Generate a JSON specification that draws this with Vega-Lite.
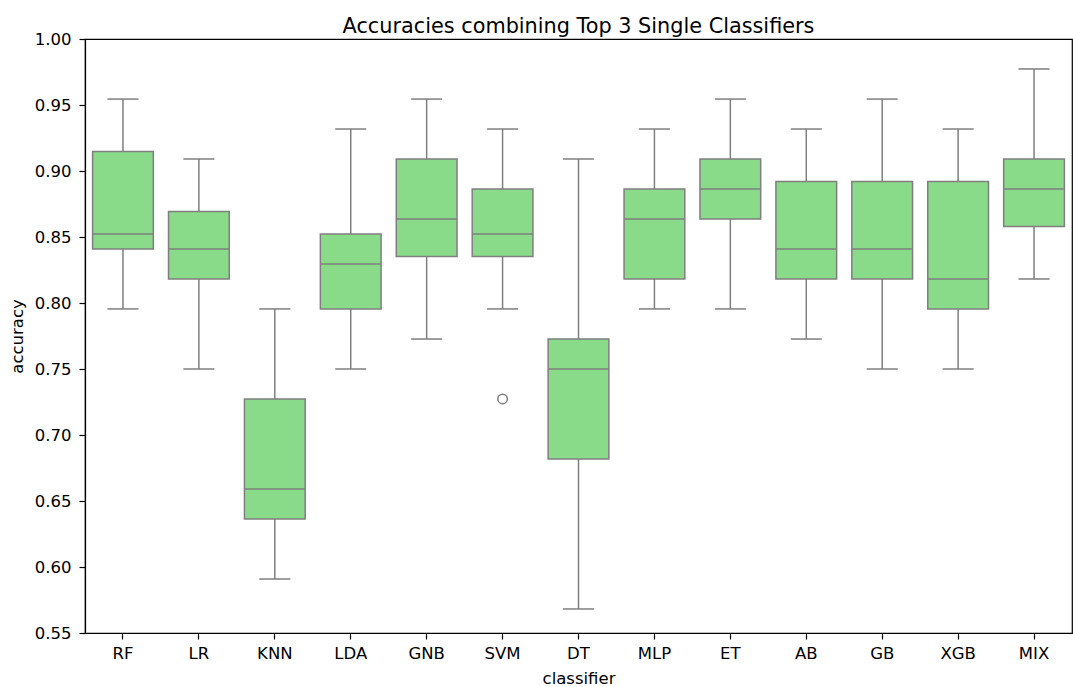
{
  "$schema": "https://vega.github.io/schema/vega-lite/v6.json",
  "width": 987,
  "height": 594,
  "autosize": {"type": "none"},
  "padding": {"left": 85, "top": 39, "right": 1, "bottom": 54},
  "background": "white",
  "title": {"text": "Accuracies combining Top 3 Single Classifiers", "font": "DejaVu Sans", "fontSize": 20.8, "fontWeight": "normal", "color": "#000000", "anchor": "middle", "offset": 0, "dy": 7},
  "config": {
    "view": {"stroke": "#000000", "strokeWidth": 1.2},
    "axis": {"labelFont": "DejaVu Sans", "titleFont": "DejaVu Sans", "labelFontSize": 16.5, "titleFontSize": 16.5, "titleFontWeight": "normal", "labelColor": "#000000", "titleColor": "#000000", "domainColor": "#000000", "tickColor": "#000000", "tickSize": 6, "domainWidth": 1.2, "tickWidth": 1.2, "grid": false}
  },
  "datasets": {
    "stats": [
      {"classifier": "RF", "lo": 0.7955, "q1": 0.8409, "med": 0.8523, "q3": 0.9148, "hi": 0.9545},
      {"classifier": "LR", "lo": 0.75, "q1": 0.8182, "med": 0.8409, "q3": 0.8693, "hi": 0.9091},
      {"classifier": "KNN", "lo": 0.5909, "q1": 0.6364, "med": 0.6591, "q3": 0.7273, "hi": 0.7955},
      {"classifier": "LDA", "lo": 0.75, "q1": 0.7955, "med": 0.8295, "q3": 0.8523, "hi": 0.9318},
      {"classifier": "GNB", "lo": 0.7727, "q1": 0.8352, "med": 0.8636, "q3": 0.9091, "hi": 0.9545},
      {"classifier": "SVM", "lo": 0.7955, "q1": 0.8352, "med": 0.8523, "q3": 0.8864, "hi": 0.9318},
      {"classifier": "DT", "lo": 0.5682, "q1": 0.6818, "med": 0.75, "q3": 0.7727, "hi": 0.9091},
      {"classifier": "MLP", "lo": 0.7955, "q1": 0.8182, "med": 0.8636, "q3": 0.8864, "hi": 0.9318},
      {"classifier": "ET", "lo": 0.7955, "q1": 0.8636, "med": 0.8864, "q3": 0.9091, "hi": 0.9545},
      {"classifier": "AB", "lo": 0.7727, "q1": 0.8182, "med": 0.8409, "q3": 0.892, "hi": 0.9318},
      {"classifier": "GB", "lo": 0.75, "q1": 0.8182, "med": 0.8409, "q3": 0.892, "hi": 0.9545},
      {"classifier": "XGB", "lo": 0.75, "q1": 0.7955, "med": 0.8182, "q3": 0.892, "hi": 0.9318},
      {"classifier": "MIX", "lo": 0.8182, "q1": 0.8580, "med": 0.8864, "q3": 0.9091, "hi": 0.9773}
    ],
    "outliers": [
      {"classifier": "SVM", "accuracy": 0.7273}
    ]
  },
  "encoding": {
    "x": {"field": "classifier", "type": "nominal", "sort": ["RF", "LR", "KNN", "LDA", "GNB", "SVM", "DT", "MLP", "ET", "AB", "GB", "XGB", "MIX"],
      "scale": {"paddingInner": 0, "paddingOuter": 0},
      "axis": {"title": "classifier", "labelAngle": 0, "labelPadding": 6, "titlePadding": 9}}
  },
  "layer": [
    {
      "data": {"name": "stats"},
      "mark": {"type": "rule", "color": "#7f7f7f", "strokeWidth": 1.5},
      "encoding": {
        "y": {"field": "lo", "type": "quantitative", "scale": {"domain": [0.55, 1.0], "nice": false, "zero": false},
          "axis": {"title": "accuracy", "values": [0.55, 0.6, 0.65, 0.7, 0.75, 0.8, 0.85, 0.9, 0.95, 1.0], "format": ".2f", "labelPadding": 8, "titlePadding": 9}},
        "y2": {"field": "hi"}
      }
    },
    {
      "data": {"name": "stats"},
      "mark": {"type": "bar", "width": {"band": 0.8}, "fill": "#89da89", "stroke": "#7f7f7f", "strokeWidth": 1.5, "opacity": 1},
      "encoding": {
        "y": {"field": "q1", "type": "quantitative"},
        "y2": {"field": "q3"}
      }
    },
    {
      "data": {"name": "stats"},
      "mark": {"type": "tick", "size": 61, "thickness": 1.5, "color": "#7f7f7f", "opacity": 1},
      "encoding": {
        "y": {"field": "med", "type": "quantitative"}
      }
    },
    {
      "data": {"name": "stats"},
      "mark": {"type": "tick", "size": 31, "thickness": 1.5, "color": "#7f7f7f", "opacity": 1},
      "encoding": {
        "y": {"field": "lo", "type": "quantitative"}
      }
    },
    {
      "data": {"name": "stats"},
      "mark": {"type": "tick", "size": 31, "thickness": 1.5, "color": "#7f7f7f", "opacity": 1},
      "encoding": {
        "y": {"field": "hi", "type": "quantitative"}
      }
    },
    {
      "data": {"name": "outliers"},
      "mark": {"type": "point", "shape": "circle", "filled": false, "stroke": "#7f7f7f", "strokeWidth": 1.5, "size": 90, "opacity": 1},
      "encoding": {
        "y": {"field": "accuracy", "type": "quantitative"}
      }
    }
  ]
}
